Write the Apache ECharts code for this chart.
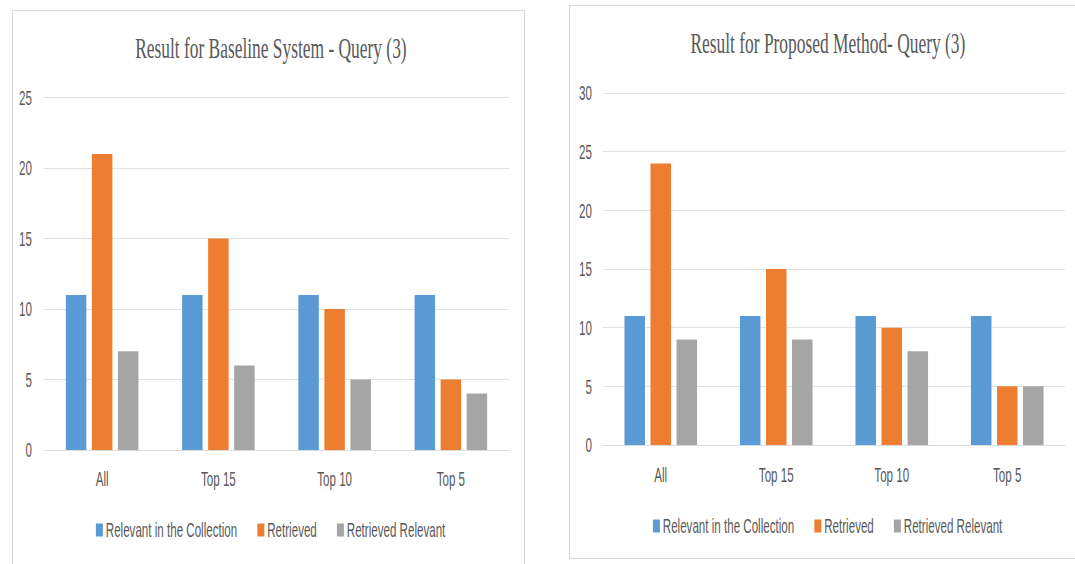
<!DOCTYPE html>
<html>
<head>
<meta charset="utf-8">
<script src="https://cdn.jsdelivr.net/npm/echarts@6/dist/echarts.min.js"></script>
<style>
  html, body { margin: 0; padding: 0; background: #ffffff; }
  body { width: 1075px; height: 564px; position: relative; overflow: hidden; }
  .frame { position: absolute; border: 1px solid #d6d6d6; box-sizing: border-box; }
  #frameLeft { left: 12px; top: 10px; width: 513px; height: 580px; }
  #frameRight { left: 569px; top: 5px; width: 520px; height: 554px; }
  #stage { position: absolute; left: 0; top: 0; transform-origin: 0 0; }
</style>
</head>
<body>
<div class="frame" id="frameLeft"></div>
<div class="frame" id="frameRight"></div>
<div id="stage"></div>
<script>
// Categories and series values for both panels
const categories = ['All', 'Top 15', 'Top 10', 'Top 5'];
const seriesNames = ['Relevant in the Collection', 'Retrieved', 'Retrieved Relevant'];

const baselineRelevant = [11, 11, 11, 11];
const baselineRetrieved = [21, 15, 10, 5];
const baselineRetrievedRelevant = [7, 6, 5, 4];

const proposedRelevant = [11, 11, 11, 11];
const proposedRetrieved = [24, 15, 10, 5];
const proposedRetrievedRelevant = [9, 9, 8, 5];

const titles = ['Result for Baseline System - Query (3)', 'Result for Proposed Method- Query (3)'];
const colors = ['#5b9bd5', '#ed7d31', '#a5a5a5'];

// The charts use a condensed look: draw wide, then compress horizontally.
const S = 0.58;
const X = v => v / S;
const W = 1075 / S, H = 564;

const stage = document.getElementById('stage');
stage.style.width = W + 'px';
stage.style.height = H + 'px';
stage.style.transform = 'scaleX(' + S + ')';

const chart = echarts.init(stage, null, { renderer: 'svg', width: W, height: H });

const textColor = '#595959';
const gridColor = '#d9d9d9';
const labelFont = { fontFamily: 'Liberation Sans', fontSize: 20, color: textColor };
const titleFont = { fontFamily: 'Liberation Serif', fontWeight: 'normal', fontSize: 30, color: textColor };

function xAxis(gridIndex, margin) {
  return {
    type: 'category', gridIndex, data: categories,
    axisLine: { lineStyle: { color: gridColor, width: 1 } },
    axisTick: { show: false },
    axisLabel: Object.assign({ margin }, labelFont)
  };
}
function yAxis(gridIndex, max, margin) {
  return {
    type: 'value', gridIndex, min: 0, max, interval: 5,
    axisLine: { show: false }, axisTick: { show: false },
    splitLine: { lineStyle: { color: gridColor, width: 1 } },
    axisLabel: Object.assign({ margin }, labelFont)
  };
}
function bar(name, data, idx, color) {
  return {
    type: 'bar', name, data, xAxisIndex: idx, yAxisIndex: idx,
    barWidth: X(20.5), barGap: '27%',
    itemStyle: { color }
  };
}
function legend(left, top) {
  return {
    left, top, data: seriesNames, icon: 'rect',
    itemWidth: X(7), itemHeight: 13, itemGap: X(20),
    textStyle: labelFont
  };
}

chart.setOption({
  animation: false,
  color: colors,
  title: [
    { text: titles[0], left: X(268), top: 28, textAlign: 'center', textStyle: titleFont },
    { text: titles[1], left: X(825), top: 23, textAlign: 'center', textStyle: titleFont }
  ],
  legend: [legend(X(93), 515), legend(X(650), 511)],
  grid: [
    { left: X(44), width: X(465), top: 97.5, height: 352.5 },
    { left: X(603), width: X(462), top: 93, height: 352 }
  ],
  xAxis: [xAxis(0, 19), xAxis(1, 20)],
  yAxis: [yAxis(0, 25, X(12)), yAxis(1, 30, X(11))],
  series: [
    bar(seriesNames[0], baselineRelevant, 0, colors[0]),
    bar(seriesNames[1], baselineRetrieved, 0, colors[1]),
    bar(seriesNames[2], baselineRetrievedRelevant, 0, colors[2]),
    bar(seriesNames[0], proposedRelevant, 1, colors[0]),
    bar(seriesNames[1], proposedRetrieved, 1, colors[1]),
    bar(seriesNames[2], proposedRetrievedRelevant, 1, colors[2])
  ]
});
</script>
</body>
</html>
